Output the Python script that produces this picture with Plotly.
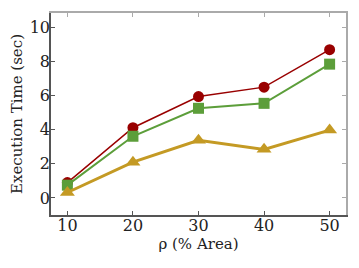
import plotly.graph_objects as go

x_vals = [10, 20, 30, 40, 50]
red_vals = [0.9, 4.12, 5.95, 6.5, 8.7]
green_vals = [0.75, 3.62, 5.26, 5.55, 7.85]
gold_vals = [0.32, 2.1, 3.38, 2.85, 3.98]
x_ticks = [10, 20, 30, 40, 50]
y_ticks = [0, 2, 4, 6, 8, 10]

RED = "#990000"
GREEN = "#5c9e3a"
GOLD = "#c49a24"
FONT = "'DejaVu Serif', 'Liberation Serif', serif"

fig = go.Figure()
fig.add_trace(go.Scatter(x=x_vals, y=red_vals, mode="lines+markers",
                         line=dict(color=RED, width=1.5),
                         marker=dict(symbol="circle", size=11, color=RED), showlegend=False))
fig.add_trace(go.Scatter(x=x_vals, y=green_vals, mode="lines+markers",
                         line=dict(color=GREEN, width=2),
                         marker=dict(symbol="square", size=11, color=GREEN), showlegend=False))
fig.add_trace(go.Scatter(x=x_vals, y=gold_vals, mode="lines+markers",
                         line=dict(color=GOLD, width=3),
                         marker=dict(symbol="triangle-up", size=13, color=GOLD), showlegend=False))
fig.add_trace(go.Scatter(x=[x_vals[0]], y=[red_vals[0]], xaxis="x2", yaxis="y2",
                         mode="markers", marker=dict(opacity=0), showlegend=False, hoverinfo="skip"))

xr = [7.5, 52.5]
yr = [-1, 10.85]
# page body has an 8px default margin, so the figure is sized to fit inside the window
fig.update_layout(
    width=351, height=260,
    margin=dict(l=43, r=13, t=5, b=53),
    paper_bgcolor="white", plot_bgcolor="white",
    font=dict(family=FONT, size=15, color="#222"),
    xaxis=dict(range=xr, tickvals=x_ticks, ticks="inside", ticklen=4, tickcolor="#555",
               showline=True, linecolor="#555", linewidth=1.5, showgrid=False, zeroline=False,
               automargin=False, ticklabelstandoff=-5,
               title=dict(text="ρ (% Area)", font=dict(family=FONT, size=15), standoff=2),
               tickfont=dict(family=FONT, size=16)),
    yaxis=dict(range=yr, tickvals=y_ticks, ticks="inside", ticklen=4, tickcolor="#555",
               showline=True, linecolor="#555", linewidth=1.5, showgrid=False, zeroline=False,
               automargin=False, ticklabelstandoff=-4,
               title=dict(text="Execution Time (sec)", font=dict(family=FONT, size=15), standoff=4),
               tickfont=dict(family=FONT, size=16)),
    xaxis2=dict(range=xr, tickvals=x_ticks, overlaying="x", side="top", anchor="y2",
                ticks="inside", ticklen=4, tickcolor="#aaa", showticklabels=False, automargin=False,
                showline=True, linecolor="#aaa", linewidth=1.5, showgrid=False, zeroline=False),
    yaxis2=dict(range=yr, tickvals=y_ticks, overlaying="y", side="right", anchor="x2",
                ticks="inside", ticklen=4, tickcolor="#aaa", showticklabels=False, automargin=False,
                showline=True, linecolor="#aaa", linewidth=1.5, showgrid=False, zeroline=False),
)

fig.write_html("out.html")
